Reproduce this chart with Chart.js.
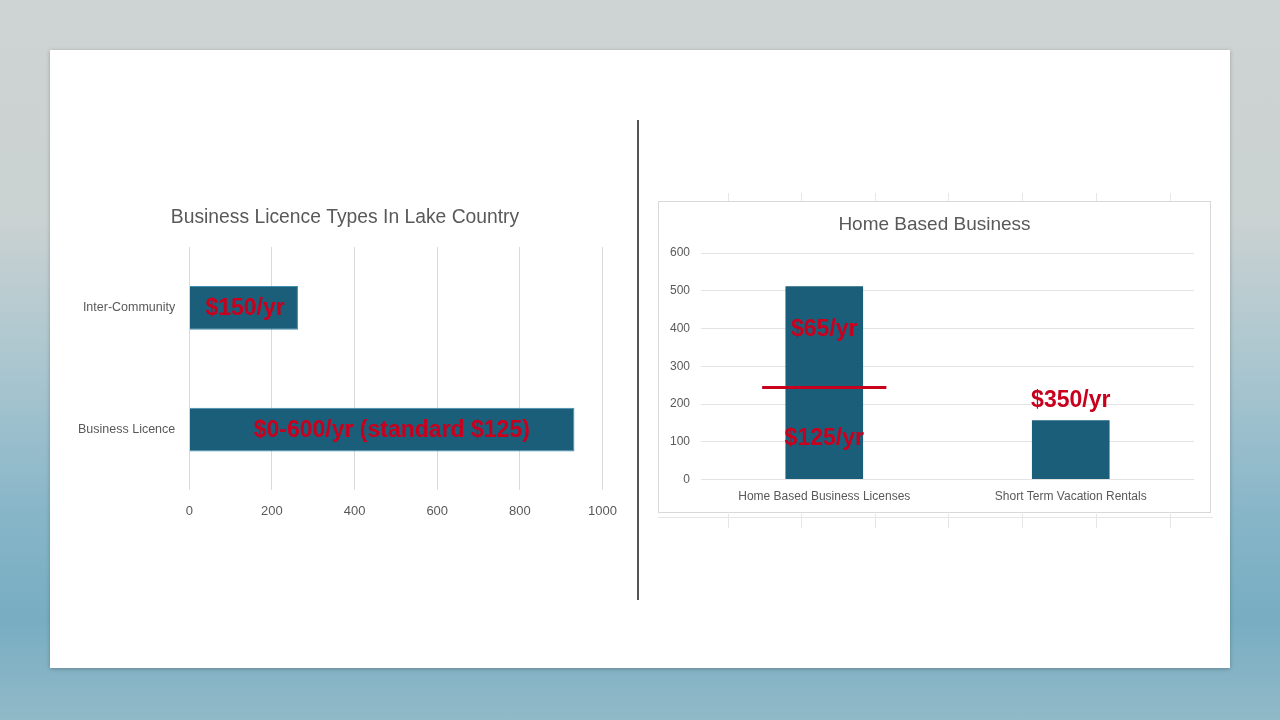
<!DOCTYPE html>
<html>
<head>
<meta charset="utf-8">
<script src="https://cdn.jsdelivr.net/npm/chart.js@4.4.1/dist/chart.umd.min.js"></script>
<style>
  html, body { margin: 0; padding: 0; }
  body {
    width: 1280px; height: 720px; overflow: hidden; position: relative;
    background: linear-gradient(to bottom, #ced3d3 0%, #cbd2d2 30%, #a8c5cf 52%, #86b5c8 72%, #78adc2 86%, #91b9c8 100%);
    font-family: "Liberation Sans", Arial, sans-serif;
  }
  #slide {
    position: absolute; left: 50px; top: 50px; width: 1180px; height: 618px;
    background: #ffffff; box-shadow: 0 1px 4px rgba(0,0,0,0.25);
  }
  #divider {
    position: absolute; left: 637px; top: 120px; width: 2px; height: 480px; background: #555;
  }
  #leftWrap { position: absolute; left: 60px; top: 195px; width: 570px; height: 337px; }
  #rightBox {
    position: absolute; left: 658px; top: 201px; width: 551px; height: 310px;
    border: 1px solid #d9d9d9; background: #fff;
  }
  .ghost { position: absolute; background: #e6e6e6; }
</style>
</head>
<body>
<div id="slide"></div>
<div id="divider"></div>
<div id="ghosts"></div>
<div id="leftWrap"><canvas id="left"></canvas></div>
<div id="rightBox"><canvas id="right"></canvas></div>
<script>
// ---- Left chart data ----
const leftTitle = 'Business Licence Types In Lake Country';
const leftCategories = ['Inter-Community', 'Business Licence'];
const leftValues = [263, 932];
const leftTicks = [0, 200, 400, 600, 800, 1000];
const leftNotes = ['$150/yr', '$0-600/yr (standard $125)'];
const leftNoteValues = [135, 490];

// ---- Right chart data ----
const rightTitle = 'Home Based Business';
const rightCategories = ['Home Based Business Licenses', 'Short Term Vacation Rentals'];
const rightValues = [512, 157];
const rightTicks = [0, 100, 200, 300, 400, 500, 600];
const rightNotes = ['$65/yr', '$125/yr', '$350/yr'];
const rightNoteCategory = [0, 0, 1];
const rightNoteValues = [396, 109, 210];
const rightDividerValue = 244;

const BAR = '#1b5e7a';
const RED = '#c8001e';
const GREY = '#595959';
const FONT = '"Liberation Sans", Arial, sans-serif';

// faint ghost gridlines around the right box
(function(){
  const g = document.getElementById('ghosts');
  const xs = [728, 801, 875, 948, 1022, 1096, 1170];
  let html = '';
  xs.forEach(x => {
    html += `<div class="ghost" style="left:${x}px;top:193px;width:1px;height:8px"></div>`;
    html += `<div class="ghost" style="left:${x}px;top:514px;width:1px;height:14px"></div>`;
  });
  html += `<div class="ghost" style="left:658px;top:517px;width:555px;height:1px"></div>`;
  g.innerHTML = html;
})();

// centered title drawn across the full canvas width
function titlePlugin(text, y, size) {
  return {
    id: 'centerTitle',
    afterDraw(chart) {
      const ctx = chart.ctx;
      ctx.save();
      ctx.fillStyle = GREY;
      ctx.font = size + 'px ' + FONT;
      ctx.textAlign = 'center';
      ctx.textBaseline = 'middle';
      ctx.fillText(text, chart.width / 2, y);
      ctx.restore();
    }
  };
}

const leftNotePlugin = {
  id: 'leftNotes',
  afterDatasetsDraw(chart) {
    const ctx = chart.ctx, xs = chart.scales.x, ys = chart.scales.y;
    ctx.save();
    ctx.fillStyle = RED;
    ctx.font = 'bold 23px ' + FONT;
    ctx.textAlign = 'center';
    ctx.textBaseline = 'middle';
    leftNotes.forEach((t, i) => {
      ctx.fillText(t, xs.getPixelForValue(leftNoteValues[i]), ys.getPixelForValue(i) + 1);
    });
    ctx.restore();
  }
};

const rightNotePlugin = {
  id: 'rightNotes',
  afterDatasetsDraw(chart) {
    const ctx = chart.ctx, ys = chart.scales.y;
    const meta = chart.getDatasetMeta(0);
    ctx.save();
    const b = meta.data[0];
    const y = ys.getPixelForValue(rightDividerValue);
    ctx.strokeStyle = RED;
    ctx.lineWidth = 3;
    ctx.beginPath();
    ctx.moveTo(b.x - b.width * 0.8, y);
    ctx.lineTo(b.x + b.width * 0.8, y);
    ctx.stroke();
    ctx.fillStyle = RED;
    ctx.font = 'bold 23px ' + FONT;
    ctx.textAlign = 'center';
    ctx.textBaseline = 'middle';
    rightNotes.forEach((t, i) => {
      const el = meta.data[rightNoteCategory[i]];
      ctx.fillText(t, el.x, ys.getPixelForValue(rightNoteValues[i]));
    });
    ctx.restore();
  }
};

new Chart(document.getElementById('left'), {
  type: 'bar',
  data: {
    labels: leftCategories,
    datasets: [{ data: leftValues, backgroundColor: BAR, borderColor: '#3f8fae', borderWidth: 1, categoryPercentage: 0.72, barPercentage: 0.5 }]
  },
  options: {
    indexAxis: 'y',
    responsive: true, maintainAspectRatio: false, animation: false,
    layout: { padding: { left: 12, right: 7, top: 52, bottom: 0 } },
    plugins: { legend: { display: false }, tooltip: { enabled: false }, title: { display: false } },
    scales: {
      x: {
        min: 0, max: 1000,
        afterBuildTicks: s => { s.ticks = leftTicks.map(v => ({ value: v })); },
        grid: { color: '#d9d9d9', drawTicks: false },
        border: { display: false },
        ticks: { color: GREY, font: { family: FONT, size: 13 }, padding: 13, callback: v => String(v) }
      },
      y: {
        grid: { display: false },
        border: { display: false },
        ticks: { color: GREY, font: { family: FONT, size: 12.5 }, padding: 6 }
      }
    }
  },
  plugins: [leftNotePlugin, titlePlugin(leftTitle, 23, 19.3)]
});

new Chart(document.getElementById('right'), {
  type: 'bar',
  data: {
    labels: rightCategories,
    datasets: [{ data: rightValues, backgroundColor: BAR, categoryPercentage: 0.63, barPercentage: 0.5 }]
  },
  options: {
    responsive: true, maintainAspectRatio: false, animation: false,
    layout: { padding: { left: 0, right: 16, top: 51, bottom: 6 } },
    plugins: { legend: { display: false }, tooltip: { enabled: false }, title: { display: false } },
    scales: {
      y: {
        min: 0, max: 600,
        afterBuildTicks: s => { s.ticks = rightTicks.map(v => ({ value: v })); },
        grid: { color: '#e3e3e3', drawTicks: false },
        border: { display: false },
        ticks: { color: GREY, font: { family: FONT, size: 12 }, padding: 11 }
      },
      x: {
        grid: { display: false },
        border: { display: false },
        ticks: { color: GREY, font: { family: FONT, size: 12 }, padding: 2 }
      }
    }
  },
  plugins: [rightNotePlugin, titlePlugin(rightTitle, 23, 19)]
});
</script>
</body>
</html>
